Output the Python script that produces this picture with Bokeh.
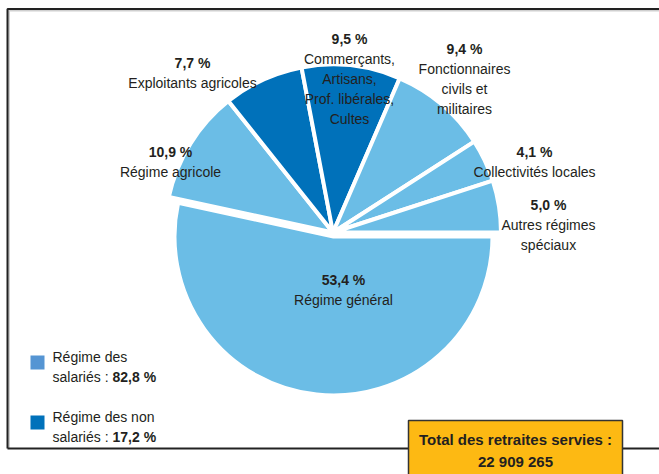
import numpy as np
from bokeh.plotting import figure
from bokeh.models import Range1d
from bokeh.core.properties import value
from bokeh.embed import file_html
from bokeh.resources import INLINE

# ---------------- data ----------------
categories = ["Régime général", "Régime agricole", "Exploitants agricoles",
              "Commerçants, Artisans, Prof. libérales, Cultes",
              "Fonctionnaires civils et militaires", "Collectivités locales",
              "Autres régimes spéciaux"]
shares = [53.4, 10.9, 7.7, 9.5, 9.4, 4.1, 5.0]
groups = ["salariés", "salariés", "non salariés", "non salariés",
          "salariés", "salariés", "salariés"]
label_lines = [["Régime général"], ["Régime agricole"], ["Exploitants agricoles"],
               ["Commerçants,", "Artisans,", "Prof. libérales,", "Cultes"],
               ["Fonctionnaires", "civils et", "militaires"],
               ["Collectivités locales"], ["Autres régimes", "spéciaux"]]
legend_names = ["Régime des\nsalariés", "Régime des non\nsalariés"]
legend_shares = [82.8, 17.2]
total_label = "Total des retraites servies :"
total_value = 22909265

# ---------------- layout / style ----------------
W, H = 659, 474
FONT = "Liberation Sans"
FS = "14px"
TXT = "#231F20"
LIGHT = "#6BBDE6"
DARK = "#0071BA"
LEG_LIGHT = "#5595D3"
YELLOW = "#FDB913"
def Y(sy):
    return H - sy

# label anchor positions (screen px): (x, y of percentage line)
label_pos = [(343, 279), (170, 151), (192, 62), (349, 38), (464, 48), (534, 151), (548, 204)]
line_h = 20

p = figure(width=W, height=H, output_backend="svg", toolbar_location=None,
           x_range=Range1d(0, W), y_range=Range1d(0, H),
           min_border=0, outline_line_color=None)
p.axis.visible = False
p.grid.visible = False
p.background_fill_color = "white"
p.border_fill_color = "white"

# frame
p.line([W, 8.5, 8.5], [Y(10), Y(10), Y(448)], line_color="#cfcfcf", line_width=2)
p.line([W, 7, 7], [Y(8.5), Y(8.5), Y(448)], line_color="#222222", line_width=2)
p.line([7, W], [Y(448), Y(448)], line_color="#222222", line_width=2)

# pie
frac = np.array(shares) / np.sum(shares)
cum = np.concatenate([[0], np.cumsum(frac)])
starts = -cum[1:] * 2 * np.pi   # clockwise from east
ends = -cum[:-1] * 2 * np.pi
colors = [LIGHT if g == "salariés" else DARK for g in groups]
for i in range(len(shares)):
    if i == 0:
        cx, cy, r = 333, Y(236), 159
    else:
        cx, cy, r = 332.5, Y(232), 168
    p.wedge(x=[cx], y=[cy], radius=r, start_angle=[starts[i]], end_angle=[ends[i]],
            fill_color=colors[i], line_color="white", line_width=4)

# labels
for i in range(len(shares)):
    lx, ly = label_pos[i]
    pct = f"{shares[i]:.1f} %".replace(".", ",")
    p.text(x=[lx], y=[Y(ly)], text=[pct], text_align="center", text_baseline="middle",
           text_font=value(FONT), text_font_size=FS, text_font_style="bold",
           text_color=TXT)
    for k, ln in enumerate(label_lines[i]):
        p.text(x=[lx], y=[Y(ly + line_h * (k + 1))], text=[ln], text_align="center",
               text_baseline="middle", text_font=value(FONT), text_font_size=FS,
               text_color=TXT)

# legend
leg_y = [362, 422]
leg_col = [LEG_LIGHT, DARK]
for j in range(2):
    p.rect(x=[37], y=[Y(leg_y[j])], width=14, height=14, fill_color=leg_col[j], line_color=None)
    l1, l2 = legend_names[j].split("\n")
    p.text(x=[52], y=[Y(leg_y[j] - 6)], text=[l1], text_align="left", text_baseline="middle",
           text_font=value(FONT), text_font_size=FS, text_color=TXT)
    p.text(x=[52], y=[Y(leg_y[j] + 14)], text=[l2 + " :"], text_align="left",
           text_baseline="middle", text_font=value(FONT), text_font_size=FS, text_color=TXT)
    p.text(x=[112], y=[Y(leg_y[j] + 14)], text=[f"{legend_shares[j]:.1f} %".replace(".", ",")],
           text_align="left", text_baseline="middle", text_font=value(FONT),
           text_font_size=FS, text_font_style="bold", text_color=TXT)

# total box
p.quad(left=[408], right=[622], top=[Y(420)], bottom=[Y(480)], fill_color=YELLOW,
       line_color="#333333", line_width=1.5)
p.text(x=[515], y=[Y(439)], text=[total_label], text_align="center", text_baseline="middle",
       text_font=value(FONT), text_font_size="15px", text_font_style="bold", text_color=TXT)
p.text(x=[515], y=[Y(461)], text=[f"{total_value:,}".replace(",", " ")], text_align="center",
       text_baseline="middle", text_font=value(FONT), text_font_size="15px",
       text_font_style="bold", text_color=TXT)

open("out.html", "w").write(file_html(p, INLINE))
